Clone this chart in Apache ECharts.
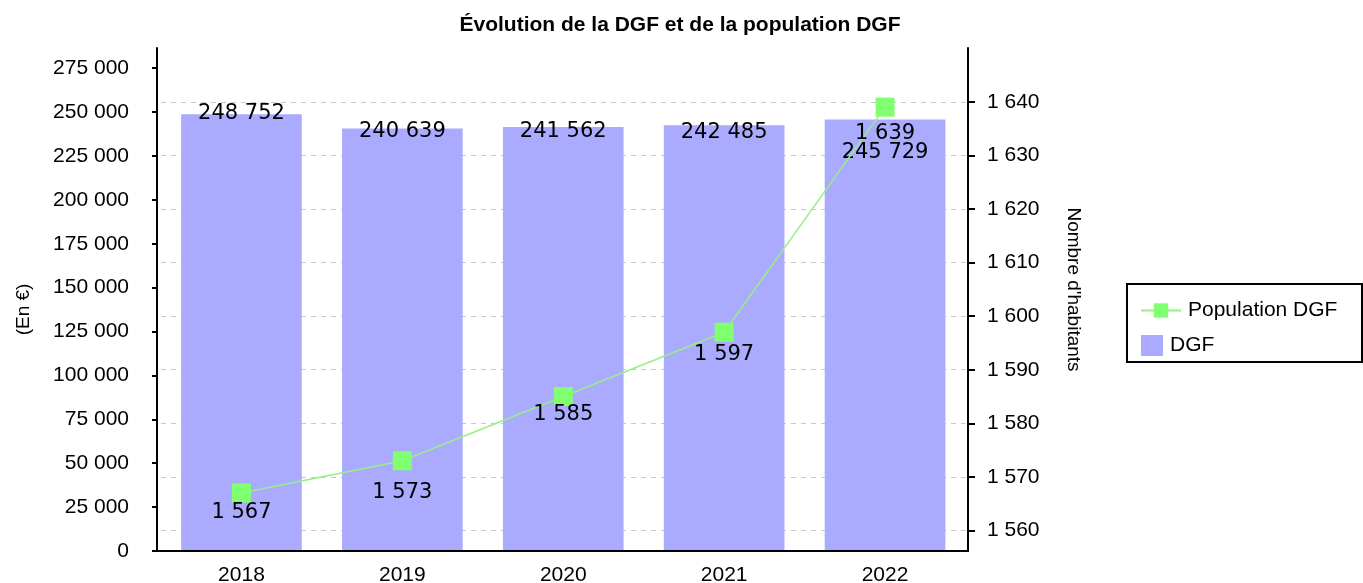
<!DOCTYPE html>
<html><head><meta charset="utf-8">
<script src="https://cdn.jsdelivr.net/npm/echarts@6/dist/echarts.min.js"></script>
<style>html,body{margin:0;padding:0;background:#fff}#c{width:1363px;height:583px}</style>
</head><body><div id="c"></div>
<script>
const categories = ['2018', '2019', '2020', '2021', '2022'];
const dgfValues = [248752, 240639, 241562, 242485, 245729];
const populationValues = [1567, 1573, 1585, 1597, 1639];
const leftTickValues = [0, 25000, 50000, 75000, 100000, 125000, 150000, 175000, 200000, 225000, 250000, 275000];
const rightTickValues = [1560, 1570, 1580, 1590, 1600, 1610, 1620, 1630, 1640];

// label vertical shifts (styling only)
const barLabelShift = [-1, 3, 5, 7, 33];
const lineLabelShift = [20, 32, 18, 22, 26];

function fmt(v) { return String(Math.round(v)).replace(/\B(?=(\d{3})+(?!\d))/g, ' '); }

const axisFont = 'Liberation Sans, Arial, sans-serif';
const labelFont = 'DejaVu Sans, sans-serif';

const chart = echarts.init(document.getElementById('c'));
chart.setOption({
  animation: false,
  backgroundColor: '#fff',
  title: {
    text: 'Évolution de la DGF et de la population DGF',
    left: 675, top: 10, textAlign: 'center',
    textStyle: { fontFamily: axisFont, fontSize: 21, fontWeight: 'bold', color: '#000' }
  },
  grid: { left: 161, right: 397.5, top: 48, bottom: 32, outerBoundsMode: 'none', containLabel: false },
  legend: [
    {
      data: [{ name: 'Population DGF' }],
      left: 1135, top: 295, orient: 'vertical',
      itemWidth: 40, itemHeight: 18, itemGap: 10,
      textStyle: { fontFamily: axisFont, fontSize: 21, color: '#000', padding: [0, 0, 0, 2] }
    },
    {
      data: [{ name: 'DGF', icon: 'rect' }],
      left: 1136, top: 330, orient: 'vertical',
      itemWidth: 22, itemHeight: 21,
      textStyle: { fontFamily: axisFont, fontSize: 21, color: '#000', padding: [0, 0, 0, 2] }
    }
  ],
  graphic: [
    {
      type: 'rect', left: 1126, top: 283, z: 0,
      shape: { width: 235, height: 78 },
      style: { fill: '#fff', stroke: '#000', lineWidth: 2 }
    },
    {
      type: 'line', z: 10, silent: true,
      shape: { x1: 156, y1: 551, x2: 969, y2: 551 },
      style: { stroke: '#000', lineWidth: 2 }
    }
  ],
  xAxis: {
    type: 'category', data: categories,
    axisLine: { lineStyle: { color: '#000', width: 2 } },
    axisTick: { show: false },
    axisLabel: { fontFamily: axisFont, fontSize: 21, color: '#000', margin: 14 }
  },
  yAxis: [
    {
      type: 'value', position: 'left', offset: 4, min: 0, max: 286500,
      name: '(En €)', nameLocation: 'middle', nameGap: 124, nameRotate: 90,
      nameTextStyle: { fontFamily: axisFont, fontSize: 19, color: '#000', padding: [0, 20, 0, 0] },
      axisLine: { show: true, lineStyle: { color: '#000', width: 2 } },
      axisTick: { show: true, length: 5, customValues: leftTickValues, lineStyle: { color: '#000', width: 2 } },
      axisLabel: { customValues: leftTickValues, formatter: fmt, fontFamily: axisFont, fontSize: 21, color: '#000', margin: 28 },
      splitLine: { show: false }
    },
    {
      type: 'value', position: 'right', offset: 2.5, min: 1556.17, max: 1650.03,
      name: "Nombre d'habitants", nameLocation: 'middle', nameGap: 96, nameRotate: -90,
      nameTextStyle: { fontFamily: axisFont, fontSize: 19, color: '#000', padding: [0, 20, 0, 0] },
      axisLine: { show: true, lineStyle: { color: '#000', width: 2 } },
      axisTick: { show: true, length: 7, customValues: rightTickValues, lineStyle: { color: '#000', width: 2 } },
      axisLabel: { customValues: rightTickValues, formatter: fmt, fontFamily: axisFont, fontSize: 21, color: '#000', margin: 19 },
      splitLine: { show: true, lineStyle: { color: '#c8c8c8', width: 1, type: [5, 5] } }
    }
  ],
  series: [
    {
      name: 'DGF', type: 'bar', yAxisIndex: 0, barWidth: '75%',
      itemStyle: { color: '#aaaaff' },
      data: dgfValues.map((v, i) => ({
        value: v,
        label: { offset: [0, barLabelShift[i]] }
      })),
      label: {
        show: true, position: ['50%', 0], align: 'center', verticalAlign: 'middle',
        formatter: p => fmt(p.value),
        fontFamily: labelFont, fontSize: 21, color: '#000'
      },
      z: 2
    },
    {
      name: 'Population DGF', type: 'line', yAxisIndex: 1,
      symbol: 'rect', symbolSize: 19,
      itemStyle: { color: '#80ff70' },
      lineStyle: { color: '#99ee88', width: 1.5 },
      data: populationValues.map((v, i) => ({
        value: v,
        label: { offset: [0, lineLabelShift[i]] }
      })),
      label: {
        show: true, position: 'inside', align: 'center', verticalAlign: 'middle',
        formatter: p => fmt(p.value),
        fontFamily: labelFont, fontSize: 21, color: '#000'
      },
      z: 3
    }
  ]
});
</script>
</body></html>
